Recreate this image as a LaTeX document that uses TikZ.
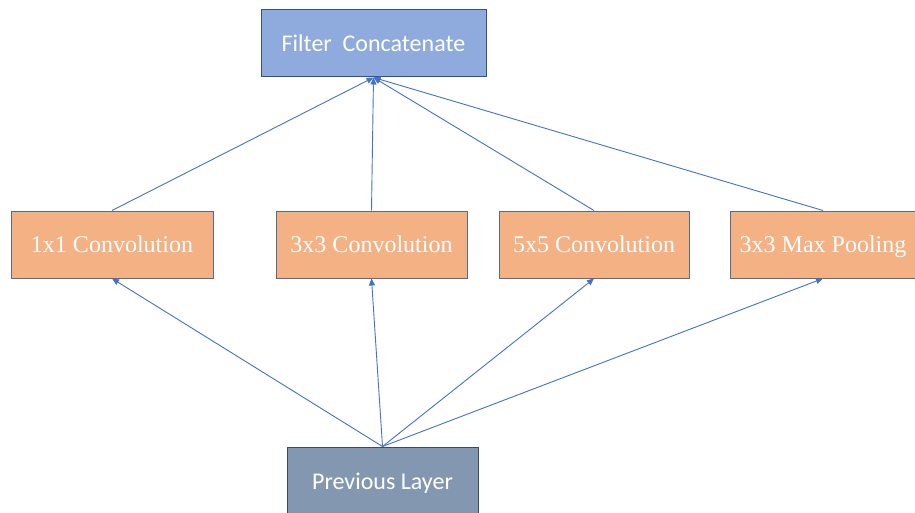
\documentclass[tikz,border=0pt]{standalone}
\usepackage{fontspec}
\setmainfont{Liberation Serif}
\newfontfamily\calib{Carlito}
\usetikzlibrary{arrows.meta}
\definecolor{fcfill}{HTML}{8FAADC}
\definecolor{fcdraw}{HTML}{2F528F}
\definecolor{convfill}{HTML}{F4B183}
\definecolor{convdraw}{HTML}{5B6B86}
\definecolor{plfill}{HTML}{8497B0}
\definecolor{pldraw}{HTML}{3A4A66}
\definecolor{arr}{HTML}{4472C4}
\tikzset{
  boxbase/.style={rectangle, text=white, inner sep=0pt, line width=1pt, text height=18pt, text depth=2pt},
  fcbox/.style={boxbase, fill=fcfill, draw=fcdraw, font=\calib\fontsize{24}{28}\selectfont},
  convbox/.style={boxbase, fill=convfill, draw=convdraw, font=\fontsize{24}{28}\selectfont, minimum height=67pt},
  plbox/.style={boxbase, fill=plfill, draw=pldraw, font=\calib\fontsize{24}{28}\selectfont},
  link/.style={draw=arr, line width=0.9pt, -{Triangle[length=7pt,width=6pt]}}
}
\begin{document}
\begin{tikzpicture}[x=1pt,y=-1pt]
\useasboundingbox (0,0) rectangle (915,513);
\clip (0,0) rectangle (915,513);
\fill[white] (0,0) rectangle (915,513);
\node[fcbox, minimum width=225pt, minimum height=67pt] (fc) at (373.5,43.5) {Filter\ \ Concatenate};
\node[convbox, minimum width=202pt] (c1) at (112,244.5) {1x1 Convolution};
\node[convbox, minimum width=191pt] (c3) at (371.5,244.5) {3x3 Convolution};
\node[convbox, minimum width=190pt] (c5) at (594,244.5) {5x5 Convolution};
\node[convbox, minimum width=186pt] (mp) at (823,244.5) {3x3 Max Pooling};
\node[plbox, minimum width=191pt, minimum height=68pt] (pl) at (382.5,481) {Previous Layer};
\foreach \n in {c1,c3,c5,mp} {
  \draw[link] (\n.north) -- (fc.south);
  \draw[link] (pl.north) -- (\n.south);
}
\end{tikzpicture}
\end{document}
